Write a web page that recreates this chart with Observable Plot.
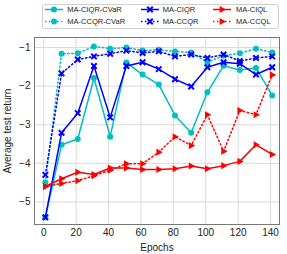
<!DOCTYPE html>
<html><head><meta charset="utf-8">
<script src="https://cdn.jsdelivr.net/npm/d3@7"></script>
<script src="https://cdn.jsdelivr.net/npm/@observablehq/plot@0.6"></script>
<style>
body{margin:0;background:#fff;font-family:"Liberation Sans",Arial,sans-serif;}
#wrap{width:287px;height:254px;position:relative;}
#legend{position:relative;width:287px;height:33px;}
#legend .box{position:absolute;left:42px;top:4px;width:237px;height:25px;border:1px solid #d0d0d0;border-radius:3px;box-sizing:border-box;}
#legend .sw{position:absolute;width:18px;height:9px;}
#legend .lab{position:absolute;font-size:7.5px;line-height:9px;color:#222;white-space:nowrap;}
svg{display:block;}
</style></head>
<body><div id="wrap"><div id="legend"><div class="box"></div></div><div id="chart"></div></div>
<script>
const epochs = [1, 11, 21, 31, 41, 51, 61, 71, 81, 91, 101, 111, 121, 131, 141];
const ciqrCvar = [-5.40, -3.52, -3.37, -1.79, -3.31, -1.39, -1.70, -1.96, -2.76, -3.21, -2.16, -1.47, -1.58, -1.53, -2.24];
const ccqrCvar = [-4.50, -1.16, -1.15, -0.97, -1.03, -1.00, -1.08, -1.06, -1.10, -1.13, -1.38, -1.21, -1.15, -1.03, -1.13];
const ciqr = [-5.40, -3.21, -2.70, -1.48, -2.81, -1.48, -1.38, -1.56, -1.82, -2.01, -1.51, -1.38, -1.42, -1.70, -1.51];
const ccqr = [-4.30, -1.67, -1.31, -1.23, -1.16, -1.08, -1.14, -1.10, -1.23, -1.18, -1.27, -1.18, -1.35, -1.27, -1.23];
const ciql = [-4.60, -4.40, -4.23, -4.29, -4.12, -4.12, -4.16, -4.16, -4.14, -4.07, -4.14, -4.06, -3.95, -3.52, -3.77];
const ccql = [-4.60, -4.52, -4.45, -4.32, -4.18, -4.01, -4.01, -3.71, -3.31, -3.54, -2.74, -3.69, -2.63, -2.74, -1.71];
const seriesNames = ["MA-CIQR-CVaR", "MA-CCQR-CVaR", "MA-CIQR", "MA-CCQR", "MA-CIQL", "MA-CCQL"];
const xTicks = [0, 20, 40, 60, 80, 100, 120, 140];
const yTicks = [-5, -4, -3, -2, -1];

const triRight = {draw(ctx, size){const r = Math.sqrt(size/Math.PI)*1.1; ctx.moveTo(r,0); ctx.lineTo(-r*0.6,-r*0.9); ctx.lineTo(-r*0.6,r*0.9); ctx.closePath();}};
const styles = [
  {color:"#00bfbf", dash:null, sym:"circle", filled:true, r:3},
  {color:"#00bfbf", dash:"1.5,2.5", sym:"circle", filled:true, r:3},
  {color:"#0000ff", dash:null, sym:"times", filled:false, r:2.6},
  {color:"#0000ff", dash:"1.5,2.5", sym:"times", filled:false, r:2.6},
  {color:"#ff0000", dash:null, sym:triRight, filled:true, r:3.6},
  {color:"#ff0000", dash:"1.5,2.5", sym:triRight, filled:true, r:3.6}
];
const values = [ciqrCvar, ccqrCvar, ciqr, ccqr, ciql, ccql];
const series = seriesNames.map((name,i)=>({name, rows: epochs.map((e,j)=>({epoch:e, value:values[i][j]})), ...styles[i]}));

const marks = [
  Plot.gridX(xTicks, {stroke:"#d9d9d9", strokeOpacity:1}),
  Plot.gridY(yTicks, {stroke:"#d9d9d9", strokeOpacity:1}),
];
for (const s of series) {
  marks.push(Plot.line(s.rows, {x:"epoch", y:"value", stroke:s.color, strokeWidth:1.5, strokeDasharray:s.dash || undefined}));
  marks.push(Plot.dot(s.rows, {x:"epoch", y:"value", symbol:s.sym, r:s.r,
    fill: s.filled ? s.color : "none", stroke: s.filled ? "none" : s.color, strokeWidth: s.filled ? 0 : 2}));
}
marks.push(Plot.frame({stroke:"#777"}));
marks.push(Plot.axisX(xTicks, {tickSize:0, tickPadding:4, label:"Epochs", labelAnchor:"center", labelArrow:"none", labelOffset:26}));
marks.push(Plot.axisY(yTicks, {tickSize:0, tickPadding:4, label:"Average test return", labelAnchor:"center", labelArrow:"none", labelOffset:31}));

const chart = Plot.plot({
  width:287, height:221,
  marginTop:4, marginBottom:30, marginLeft:34, marginRight:8,
  x:{domain:[-5.7,145.5]},
  y:{domain:[-5.585,-0.74]},
  style:{fontSize:"10px", fontFamily:"'Liberation Sans', Arial, sans-serif", color:"#222", background:"#fff"},
  marks
});
document.getElementById("chart").appendChild(chart);

// legend
const leg = document.getElementById("legend");
const swX = [45, 140.7, 213.3], txX = [67.3, 162.7, 236], rowY = [9.3, 21.7];
series.forEach((s,i)=>{
  const col = Math.floor(i/2), row = i%2;
  const ns = "http://www.w3.org/2000/svg";
  const svg = document.createElementNS(ns,"svg");
  svg.setAttribute("width",18); svg.setAttribute("height",9);
  svg.setAttribute("class","sw");
  svg.style.left = swX[col]+"px"; svg.style.top = (rowY[row]-4.5)+"px";
  svg.style.position="absolute";
  const ln = document.createElementNS(ns,"line");
  ln.setAttribute("x1",0); ln.setAttribute("x2",18); ln.setAttribute("y1",4.5); ln.setAttribute("y2",4.5);
  ln.setAttribute("stroke",s.color); ln.setAttribute("stroke-width",1.5);
  if (s.dash) ln.setAttribute("stroke-dasharray", s.dash);
  svg.appendChild(ln);
  const symType = s.sym === "circle" ? d3.symbolCircle : s.sym === "times" ? d3.symbolTimes : triRight;
  const p = document.createElementNS(ns,"path");
  p.setAttribute("d", d3.symbol(symType, Math.PI*s.r*s.r)());
  p.setAttribute("transform","translate(9,4.5)");
  if (s.filled) p.setAttribute("fill", s.color); else {p.setAttribute("fill","none"); p.setAttribute("stroke",s.color); p.setAttribute("stroke-width",2);}
  svg.appendChild(p);
  leg.appendChild(svg);
  const t = document.createElement("div");
  t.className="lab"; t.textContent = s.name;
  t.style.left = txX[col]+"px"; t.style.top = (rowY[row]-4.5)+"px";
  leg.appendChild(t);
});
</script></body></html>
